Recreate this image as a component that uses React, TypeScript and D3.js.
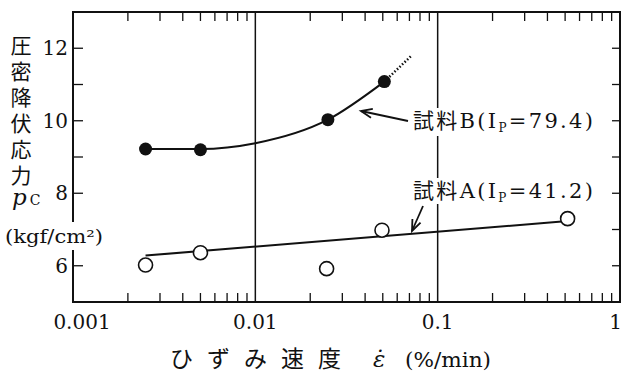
import React, { useEffect, useRef } from "react";
import * as d3 from "d3";

// 試料B (filled circles)
const sampleBRate = [0.0025, 0.005, 0.025, 0.051];
const sampleBStress = [9.22, 9.2, 10.03, 11.08];
// fitted curve for B, and its dotted extension
const curveBRate = [0.0025, 0.005, 0.01, 0.025, 0.051];
const curveBStress = [9.22, 9.22, 9.38, 10.03, 11.08];
const extBRate = [0.051, 0.072];
const extBStress = [11.08, 11.8];

// 試料A (open circles)
const sampleARate = [0.0025, 0.005, 0.0246, 0.0495, 0.516];
const sampleAStress = [6.02, 6.36, 5.92, 6.98, 7.3];
const lineARate = [0.0025, 0.48];
const lineAStress = [6.28, 7.22];

const xTickValues = [0.001, 0.01, 0.1, 1];
const xTickLabels = ["0.001", "0.01", "0.1", "1"];
const yTickValues = [6, 8, 10, 12];

const serif = "'DejaVu Serif', 'Liberation Serif', serif";
const jp = "'Noto Sans CJK JP', sans-serif";

const App = () => {
  const ref = useRef<SVGSVGElement>(null);

  useEffect(() => {
    const width = 623;
    const height = 378;
    const margin = { top: 12, right: 3, bottom: 76, left: 73 };
    const w = width - margin.left - margin.right;
    const h = height - margin.top - margin.bottom;

    const svg = d3.select(ref.current);
    svg.selectAll("*").remove();

    const x = d3.scaleLog().domain([0.001, 1]).range([0, w]);
    const y = d3.scaleLinear().domain([5, 13]).range([h, 0]);

    const g = svg
      .append("g")
      .attr("transform", `translate(${margin.left},${margin.top})`);

    // frame
    g.append("rect")
      .attr("width", w)
      .attr("height", h)
      .attr("fill", "none")
      .attr("stroke", "#111")
      .attr("stroke-width", 2);

    // vertical lines at 0.01 and 0.1
    g.selectAll(".vgrid")
      .data([0.01, 0.1])
      .join("line")
      .attr("x1", (d) => x(d))
      .attr("x2", (d) => x(d))
      .attr("y1", 0)
      .attr("y2", h)
      .attr("stroke", "#111")
      .attr("stroke-width", 1.5);

    // minor x ticks, bottom and top, pointing inward
    const minor = x.ticks().filter((d) => ![0.001, 0.01, 0.1, 1].includes(+d.toPrecision(3)));
    g.selectAll(".xb")
      .data(minor)
      .join("line")
      .attr("x1", (d) => x(d))
      .attr("x2", (d) => x(d))
      .attr("y1", h)
      .attr("y2", h - 9)
      .attr("stroke", "#111")
      .attr("stroke-width", 1.3);
    g.selectAll(".xt")
      .data(minor)
      .join("line")
      .attr("x1", (d) => x(d))
      .attr("x2", (d) => x(d))
      .attr("y1", 0)
      .attr("y2", 9)
      .attr("stroke", "#111")
      .attr("stroke-width", 1.3);

    // y ticks left (every unit) and right
    const yAll = d3.range(6, 13);
    g.selectAll(".yl")
      .data(yAll)
      .join("line")
      .attr("x1", 0)
      .attr("x2", 10)
      .attr("y1", (d) => y(d))
      .attr("y2", (d) => y(d))
      .attr("stroke", "#111")
      .attr("stroke-width", 1.3);
    g.selectAll(".yr")
      .data(yAll)
      .join("line")
      .attr("x1", w)
      .attr("x2", w - 8)
      .attr("y1", (d) => y(d))
      .attr("y2", (d) => y(d))
      .attr("stroke", "#111")
      .attr("stroke-width", 1.3);

    // tick labels
    g.selectAll(".ylab")
      .data(yTickValues)
      .join("text")
      .attr("x", -5)
      .attr("y", (d) => y(d))
      .attr("dy", "0.35em")
      .attr("text-anchor", "end")
      .attr("font-family", serif)
      .attr("font-size", 20)
      .attr("fill", "#111")
      .text((d) => d);

    g.selectAll(".xlab")
      .data(xTickValues)
      .join("text")
      .attr("x", (d, i) => x(d) + (i === 0 ? 9 : 0))
      .attr("y", h + 27)
      .attr("text-anchor", (d, i) => (i === 3 ? "end" : "middle"))
      .attr("dx", (d, i) => (i === 3 ? 2 : 0))
      .attr("font-family", serif)
      .attr("font-size", 20)
      .attr("fill", "#111")
      .text((d, i) => xTickLabels[i]);

    // white gaps in the lines behind the labels
    [
      [62, 222, 44, 28],
      [410, 108, 186, 28],
      [410, 178, 186, 26],
    ].forEach(([bx, by, bw, bh]) =>
      svg.append("rect").attr("x", bx).attr("y", by).attr("width", bw).attr("height", bh).attr("fill", "white")
    );

    // lines
    const line = d3
      .line<[number, number]>()
      .x((d) => x(d[0]))
      .y((d) => y(d[1]));

    g.append("path")
      .datum(curveBRate.map((r, i) => [r, curveBStress[i]] as [number, number]))
      .attr("d", line.curve(d3.curveMonotoneX))
      .attr("fill", "none")
      .attr("stroke", "#111")
      .attr("stroke-width", 2);

    g.append("path")
      .datum(extBRate.map((r, i) => [r, extBStress[i]] as [number, number]))
      .attr("d", line.curve(d3.curveLinear))
      .attr("fill", "none")
      .attr("stroke", "#111")
      .attr("stroke-width", 2.5)
      .attr("stroke-dasharray", "1.5,2");

    g.append("path")
      .datum(lineARate.map((r, i) => [r, lineAStress[i]] as [number, number]))
      .attr("d", line.curve(d3.curveLinear))
      .attr("fill", "none")
      .attr("stroke", "#111")
      .attr("stroke-width", 2);

    // points
    g.selectAll(".pb")
      .data(sampleBRate)
      .join("circle")
      .attr("cx", (d) => x(d))
      .attr("cy", (d, i) => y(sampleBStress[i]))
      .attr("r", 6.5)
      .attr("fill", "#111");

    g.selectAll(".pa")
      .data(sampleARate)
      .join("circle")
      .attr("cx", (d) => x(d))
      .attr("cy", (d, i) => y(sampleAStress[i]))
      .attr("r", 7)
      .attr("fill", "white")
      .attr("stroke", "#111")
      .attr("stroke-width", 1.6);

    // annotations
    const label = (tx: number, ty: number, name: string, val: string) => {
      const t = svg
        .append("text")
        .attr("x", tx)
        .attr("y", ty)
        .attr("font-size", 21)
        .attr("textLength", 180)
        .attr("lengthAdjust", "spacing")
        .attr("fill", "#111");
      t.append("tspan").attr("font-family", jp).text("試料");
      t.append("tspan").attr("font-family", serif).text(name + "(I");
      t.append("tspan")
        .attr("font-family", serif)
        .attr("font-size", 12)
        .attr("dy", 4)
        .text("P");
      t.append("tspan").attr("font-family", serif).attr("dy", -4).text("=" + val + ")");
    };
    label(413, 128, "B", "79.4");
    label(413, 198, "A", "41.2");

    const arrow = (x1: number, y1: number, x2: number, y2: number) => {
      const ang = Math.atan2(y2 - y1, x2 - x1);
      const a = 0.38;
      const len = 12;
      svg
        .append("line")
        .attr("x1", x1)
        .attr("y1", y1)
        .attr("x2", x2)
        .attr("y2", y2)
        .attr("stroke", "#111")
        .attr("stroke-width", 1.8);
      svg
        .append("path")
        .attr(
          "d",
          `M${x2 - len * Math.cos(ang - a)},${y2 - len * Math.sin(ang - a)}L${x2},${y2}L${
            x2 - len * Math.cos(ang + a)
          },${y2 - len * Math.sin(ang + a)}`
        )
        .attr("fill", "none")
        .attr("stroke", "#111")
        .attr("stroke-width", 1.8);
    };
    arrow(408, 121, 361, 111);
    arrow(423, 206, 412, 231);

    // y axis title (vertical)
    svg
      .append("text")
      .attr("x", 21)
      .attr("y", 35)
      .attr("font-family", jp)
      .attr("font-size", 21)
      .attr("letter-spacing", 5)
      .attr("fill", "#111")
      .style("writing-mode", "vertical-rl")
      .text("圧密降伏応力");

    const pc = svg
      .append("text")
      .attr("x", 12)
      .attr("y", 205)
      .attr("font-family", serif)
      .attr("fill", "#111");
    pc.append("tspan").attr("font-size", 23).attr("font-style", "italic").text("p");
    pc.append("tspan").attr("font-size", 14).attr("dx", 3).text("C");

    svg
      .append("text")
      .attr("x", 5)
      .attr("y", 243)
      .attr("font-family", serif)
      .attr("font-size", 18)
      .attr("textLength", 98)
      .attr("lengthAdjust", "spacingAndGlyphs")
      .attr("fill", "#111")
      .text("(kgf/cm²)");

    // x axis title
    svg
      .append("text")
      .attr("x", 170)
      .attr("y", 367)
      .attr("font-family", jp)
      .attr("font-size", 23)
      .attr("letter-spacing", 14)
      .attr("fill", "#111")
      .text("ひずみ速度");
    svg
      .append("text")
      .attr("x", 373)
      .attr("y", 367)
      .attr("font-family", serif)
      .attr("font-style", "italic")
      .attr("font-size", 23)
      .attr("fill", "#111")
      .text("ε̇");
    svg
      .append("text")
      .attr("x", 405)
      .attr("y", 367)
      .attr("font-family", serif)
      .attr("font-size", 21)
      .attr("textLength", 86)
      .attr("lengthAdjust", "spacingAndGlyphs")
      .attr("fill", "#111")
      .text("(%/min)");
  }, []);

  return (
    <svg
      ref={ref}
      width={623}
      height={378}
      style={{ position: "absolute", left: 0, top: 0, background: "white" }}
    />
  );
};

export default App;
